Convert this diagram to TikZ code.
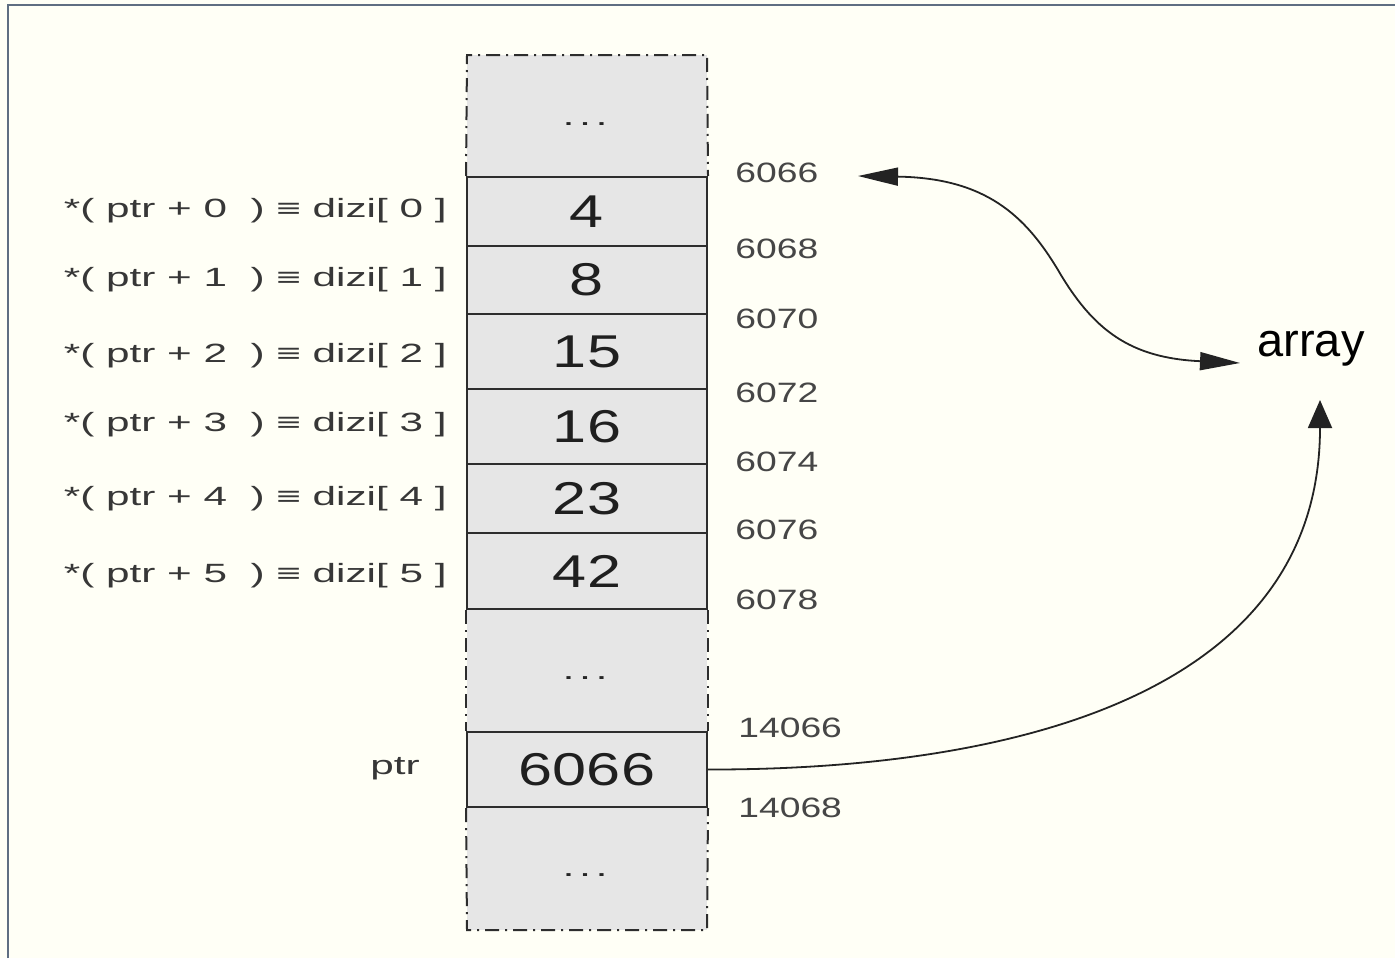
\documentclass[tikz,border=0pt]{standalone}
\usepackage{fontspec}
\setmainfont{Liberation Sans}
\newfontfamily\valfont[FakeStretch=1.33]{Liberation Sans}
\newfontfamily\labfont[FakeStretch=1.6]{Liberation Sans}
\usetikzlibrary{arrows.meta}
\definecolor{bgc}{RGB}{255,255,246}
\definecolor{framec}{RGB}{95,110,130}
\definecolor{cellc}{RGB}{230,230,230}
\definecolor{linec}{RGB}{45,45,45}
\definecolor{addrc}{RGB}{70,70,70}
\definecolor{labc}{RGB}{55,55,55}
\definecolor{connc}{RGB}{35,35,35}
\tikzset{
  cell/.style={draw=linec, line width=1pt, fill=cellc, minimum width=120pt, inner sep=0pt,
    text=black!88, font=\valfont\fontsize{23pt}{26pt}\selectfont},
  addr/.style={anchor=west, inner sep=0pt, text=addrc, font=\valfont\fontsize{14pt}{16pt}\selectfont},
  lab/.style={anchor=east, inner sep=0pt, text=labc, font=\labfont\fontsize{13.2pt}{15pt}\selectfont},
  dotsl/.style={inner sep=0pt, text=black!85, font=\labfont\fontsize{13.5pt}{15pt}\selectfont},
  dashbord/.style={draw=linec, line width=1pt, dash pattern=on 7pt off 3pt on 1pt off 3pt},
  conn/.style={draw=connc, line width=0.9pt},
}
\begin{document}
\begin{tikzpicture}[x=0.5pt,y=-0.5pt]
\useasboundingbox (0,0) rectangle (1395,958);
\fill[bgc] (0,0) rectangle (1395,958);
\draw[framec, line width=1.2pt] (8,958) -- (8,5) -- (1395,5);

% column background
\fill[cellc] (467,55) rectangle (707,930);

% cells
\node[cell, minimum height=34.5pt] (c0) at (587,211.5) {4};
\node[cell, minimum height=34pt]   (c1) at (587,280) {8};
\node[cell, minimum height=37.5pt] (c2) at (587,351.5) {15};
\node[cell, minimum height=37.5pt] (c3) at (587,426.5) {16};
\node[cell, minimum height=34.5pt] (c4) at (587,498.5) {23};
\node[cell, minimum height=38pt]   (c5) at (587,571) {42};
\node[cell, minimum height=37.5pt] (cp) at (587,769.5) {6066};

% dashed borders
\draw[dashbord] (c0.north west) -- (467,55) -- (707,55) -- (c0.north east);
\draw[dashbord] (c5.south west) -- (cp.north west);
\draw[dashbord] (c5.south east) -- (cp.north east);
\draw[dashbord] (cp.south west) -- (467,930) -- (707,930) -- (cp.south east);

% dots
\node[dotsl] (d0) at (585,124) {.\,.\,.};
\node[dotsl] (d1) at (585,678) {.\,.\,.};
\node[dotsl] (d2) at (585,875) {.\,.\,.};

% left labels
\node[lab] (l0) at (447,211) {*( ptr + 0 \ ) ≡ dizi[ 0 ]};
\node[lab] (l1) at (447,280) {*( ptr + 1 \ ) ≡ dizi[ 1 ]};
\node[lab] (l2) at (447,356) {*( ptr + 2 \ ) ≡ dizi[ 2 ]};
\node[lab] (l3) at (447,425) {*( ptr + 3 \ ) ≡ dizi[ 3 ]};
\node[lab] (l4) at (447,499) {*( ptr + 4 \ ) ≡ dizi[ 4 ]};
\node[lab] (l5) at (447,576) {*( ptr + 5 \ ) ≡ dizi[ 5 ]};
\node[lab, anchor=center] (lp) at (395,769) {ptr};

% addresses
\node[addr] (a0) at (735,173) {6066};
\node[addr] (a1) at (735,249) {6068};
\node[addr] (a2) at (735,319) {6070};
\node[addr] (a3) at (735,393) {6072};
\node[addr] (a4) at (735,462) {6074};
\node[addr] (a5) at (735,530) {6076};
\node[addr] (a6) at (735,600) {6078};
\node[addr] (a7) at (738,728) {14066};
\node[addr] (a8) at (738,808) {14068};

% array label
\node[inner sep=0pt, font=\fontsize{23.5pt}{26pt}\selectfont] (arr) at (1311,349) {array};

% arrows
\coordinate (tipL) at (858,176);
\coordinate (tipR) at (1240,363);
\coordinate (tipU) at (1320,400);
\draw[conn, {Triangle[length=20pt,width=9pt]}-{Triangle[length=20pt,width=9pt]}]
  (tipL) .. controls (985,178) and (1025,215) .. (1058,270)
         .. controls (1093,330) and (1130,358) .. (tipR);
\draw[conn, -{Triangle[length=14pt,width=12pt]}]
  (cp.east) .. controls (1000,770) and (1320,700) .. (tipU);
\end{tikzpicture}
\end{document}
